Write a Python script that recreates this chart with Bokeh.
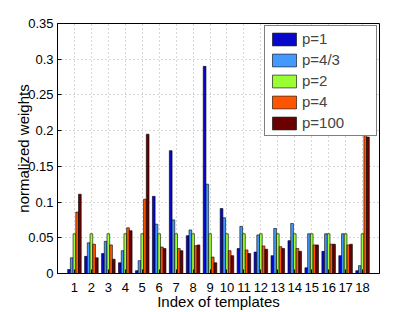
from bokeh.plotting import figure
from bokeh.models import ColumnDataSource, Range1d, FixedTicker, Legend, LegendItem
from bokeh.transform import dodge
from bokeh.embed import file_html
from bokeh.resources import INLINE

templates = [1, 2, 3, 4, 5, 6, 7, 8, 9, 10, 11, 12, 13, 14, 15, 16, 17, 18]
x_tick_labels = [str(t) for t in templates]
series_names = ["p=1", "p=4/3", "p=2", "p=4", "p=100"]
series_colors = ["#0808CC", "#4499FF", "#99FF33", "#FF5500", "#6A0000"]

p1 = [0.0056, 0.024, 0.028, 0.015, 0.004, 0.108, 0.172, 0.053, 0.290, 0.091,
      0.035, 0.030, 0.025, 0.046, 0.008, 0.031, 0.025, 0.004]
p43 = [0.022, 0.043, 0.045, 0.032, 0.018, 0.069, 0.075, 0.061, 0.125, 0.078,
       0.066, 0.054, 0.063, 0.070, 0.0556, 0.0556, 0.0556, 0.011]
p2 = [0.0556, 0.0556, 0.0556, 0.0556, 0.0556, 0.0556, 0.0556, 0.0556, 0.0556,
      0.0556, 0.0556, 0.0556, 0.0556, 0.0556, 0.0556, 0.0556, 0.0556, 0.0556]
p4 = [0.086, 0.041, 0.040, 0.064, 0.104, 0.037, 0.035, 0.039, 0.023, 0.032,
      0.033, 0.0386, 0.0376, 0.035, 0.040, 0.041, 0.040, 0.228]
p100 = [0.111, 0.022, 0.020, 0.060, 0.195, 0.035, 0.032, 0.040, 0.015, 0.025,
        0.028, 0.034, 0.035, 0.031, 0.040, 0.041, 0.041, 0.191]

y_ticks = [0, 0.05, 0.1, 0.15, 0.2, 0.25, 0.3, 0.35]
y_tick_labels = ["0", "0.05", "0.1", "0.15", "0.2", "0.25", "0.3", "0.35"]

FONT = "Liberation Sans"

source = ColumnDataSource(data=dict(x=templates, s0=p1, s1=p43, s2=p2, s3=p4, s4=p100))

p = figure(width=415, height=312, output_backend="svg", toolbar_location=None,
           x_range=Range1d(0, 19), y_range=Range1d(0, 0.35),
           min_border_left=57, min_border_right=36, min_border_top=23, min_border_bottom=38)
p.background_fill_color = "white"
p.border_fill_color = "white"
p.outline_line_color = "black"
p.outline_line_width = 1

offsets = [-0.32, -0.16, 0.0, 0.16, 0.32]
items = []
for k in range(5):
    r = p.vbar(x=dodge("x", offsets[k], range=p.x_range), top="s%d" % k, width=0.16,
               source=source, fill_color=series_colors[k], line_color="black", line_width=0.6)
    items.append(LegendItem(label=series_names[k], renderers=[r]))

xa = p.xaxis[0]
xa.ticker = FixedTicker(ticks=templates)
xa.major_label_overrides = {t: l for t, l in zip(templates, x_tick_labels)}
xa.axis_label = "Index of templates"
ya = p.yaxis[0]
ya.ticker = FixedTicker(ticks=y_ticks)
ya.major_label_overrides = {t: l for t, l in zip(y_ticks, y_tick_labels)}
ya.axis_label = "normalized weights"
for ax in (xa, ya):
    ax.major_tick_in = 4
    ax.major_tick_out = 0
    ax.minor_tick_line_color = None
    ax.axis_line_color = "black"
    ax.major_tick_line_color = "black"
    ax.major_label_text_font = FONT
    ax.major_label_text_font_size = "13px"
    ax.major_label_text_color = "black"
    ax.axis_label_text_font = FONT
    ax.axis_label_text_font_size = "15px"
    ax.axis_label_text_font_style = "normal"
    ax.axis_label_text_color = "black"
xa.major_label_standoff = 9
xa.axis_label_standoff = -2
ya.major_label_standoff = 4
ya.axis_label_standoff = -7

p.xgrid.ticker = FixedTicker(ticks=templates)
p.ygrid.ticker = FixedTicker(ticks=y_ticks)
for g in (p.xgrid[0], p.ygrid[0]):
    g.grid_line_color = "#b0b0b0"
    g.grid_line_dash = "1 3"
    g.grid_line_width = 1

legend = Legend(items=items, location="top_right")
legend.label_text_font = FONT
legend.label_text_font_size = "15px"
legend.glyph_width = 30
legend.glyph_height = 16
legend.spacing = 4
legend.padding = 4
legend.margin = 2
legend.label_standoff = 3
legend.label_width = 70
legend.border_line_color = "black"
legend.border_line_width = 1
legend.background_fill_alpha = 1
p.add_layout(legend)

open("out.html", "w").write(file_html(p, INLINE))
